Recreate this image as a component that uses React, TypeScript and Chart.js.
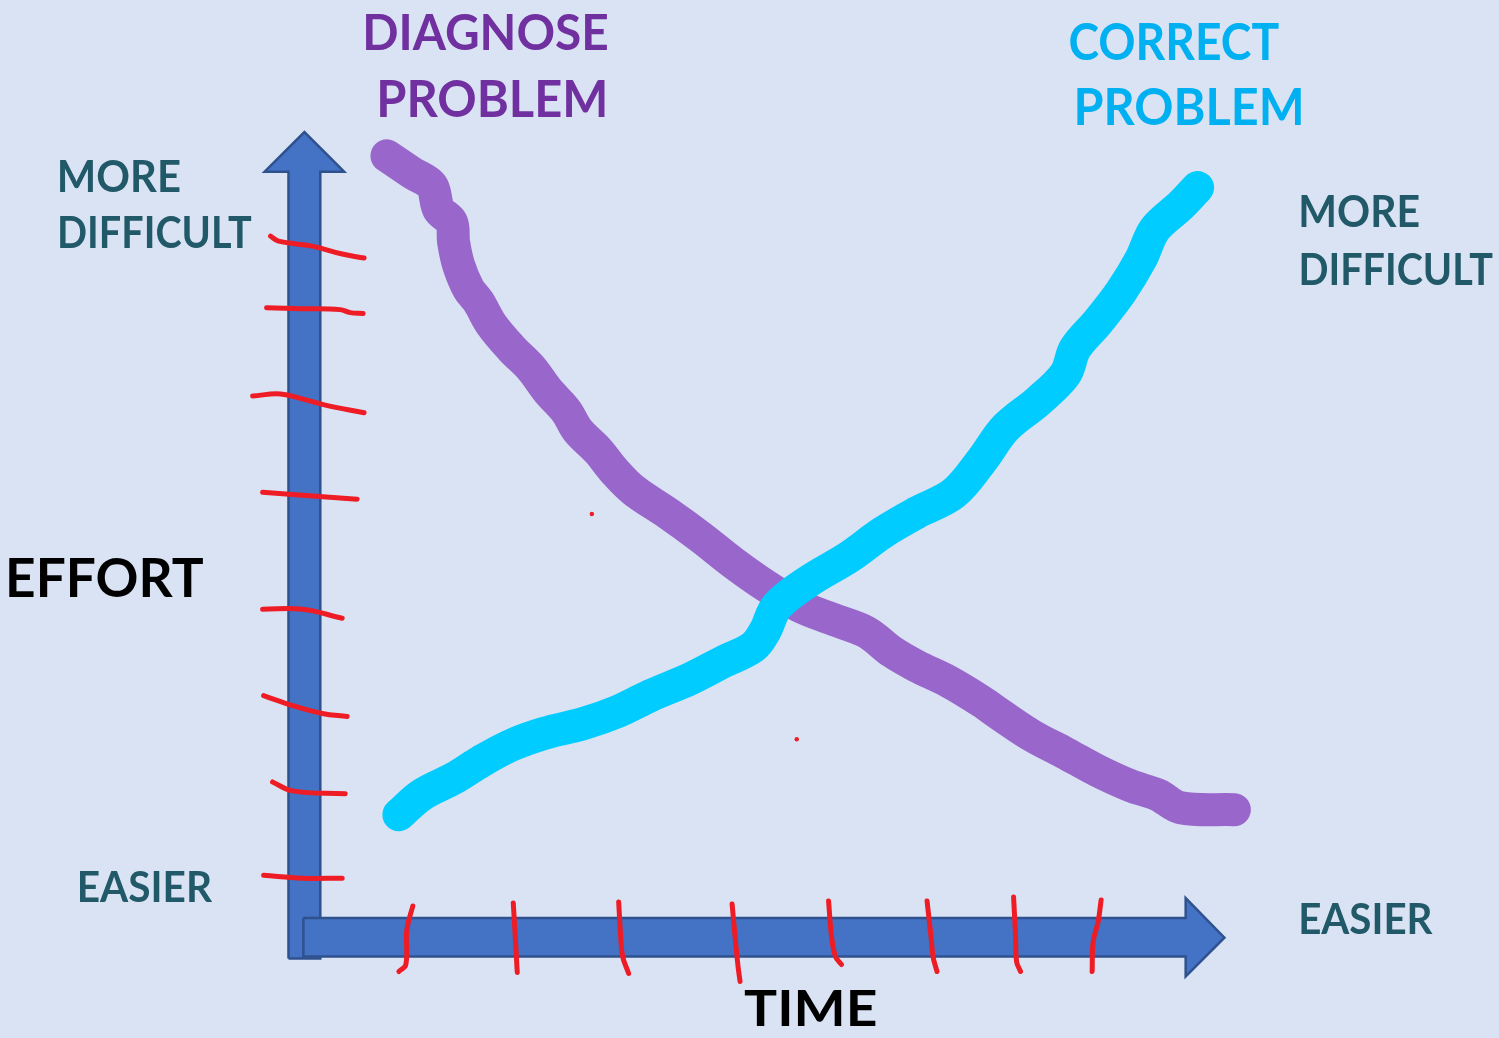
import React, { useEffect, useRef } from "react";
import { Chart, registerables } from "chart.js";

Chart.register(...registerables);

type Pt = [number, number];

// Canvas-space coordinate system of the diagram (x right, y down)
const X_RANGE: Pt = [0, 1499];
const Y_RANGE: Pt = [0, 1038];

// "Diagnose problem" curve (purple): falls over time
const diagnosePath: Pt[] = [
  [385, 153], [410, 170], [430, 183], [437, 207], [450, 220], [452, 240],
  [457, 263], [467, 287], [477, 300], [490, 323], [510, 347], [530, 367],
  [547, 390], [565, 410], [577, 430], [597, 450], [613, 470], [633, 490],
  [667, 513], [700, 537], [733, 563], [767, 587], [800, 607], [833, 620],
  [867, 633], [893, 653], [917, 667], [950, 683], [983, 703], [1000, 715],
  [1033, 737], [1067, 755], [1100, 773], [1133, 788], [1160, 797],
  [1183, 810], [1237, 812],
];

// "Correct problem" curve (cyan): rises over time
const correctPath: Pt[] = [
  [397, 817], [420, 797], [453, 780], [480, 763], [510, 747], [543, 735],
  [583, 725], [617, 713], [650, 697], [690, 680], [723, 663], [753, 648],
  [765, 632], [777, 607], [807, 583], [850, 557], [883, 533], [917, 513],
  [955, 493], [983, 460], [1007, 427], [1040, 400], [1067, 373],
  [1077, 347], [1100, 320], [1123, 290], [1143, 257], [1157, 227],
  [1183, 203], [1200, 185],
];

// Axis arrows (outlines)
const effortArrow: Pt[] = [
  [286, 962], [286, 169], [262, 169], [302, 129], [342, 169], [318, 169],
  [318, 962], [286, 962],
];
const timeArrow: Pt[] = [
  [301, 921], [1188, 921], [1188, 901], [1227, 941], [1188, 980],
  [1188, 960], [301, 960], [301, 921],
];

// Hand-drawn red tick marks on the effort axis
const effortTicks: Pt[][] = [
  [[268, 234], [276, 239], [310, 244], [340, 252], [362, 256]],
  [[264, 306], [300, 307], [338, 308], [348, 311], [361, 312]],
  [[250, 395], [278, 393], [300, 398], [322, 404], [362, 412]],
  [[260, 492], [300, 495], [355, 499]],
  [[260, 610], [300, 610], [340, 619]],
  [[261, 697], [290, 707], [320, 715], [345, 718]],
  [[270, 784], [290, 793], [343, 796]],
  [[261, 878], [300, 881], [340, 881]],
];

// Hand-drawn red tick marks on the time axis
const timeTicks: Pt[][] = [
  [[411, 909], [405, 933], [404, 968], [397, 975]],
  [[512, 906], [514, 940], [516, 976]],
  [[618, 905], [620, 940], [622, 960], [628, 977]],
  [[732, 907], [735, 940], [738, 970], [740, 985]],
  [[829, 904], [832, 940], [836, 960], [842, 968]],
  [[928, 904], [932, 940], [934, 960], [938, 975]],
  [[1015, 900], [1017, 940], [1018, 965], [1022, 975]],
  [[1103, 903], [1100, 925], [1095, 945], [1094, 975]],
];

const strayDots: Pt[] = [[591, 514], [797, 741]];

// Labels: [text, left, top, right, bottom, colour]
type Label = [string, number, number, number, number, string];
const labels: Label[] = [
  ["DIAGNOSE", 363, 10, 607, 46, "#7030A0"],
  ["PROBLEM", 378, 76, 604, 114, "#7030A0"],
  ["CORRECT", 1071, 18, 1282, 56, "#00B0F0"],
  ["PROBLEM", 1079, 84, 1304, 122, "#00B0F0"],
  ["MORE", 56, 157, 177, 189, "#215968"],
  ["DIFFICULT", 56, 214, 249, 246, "#215968"],
  ["MORE", 1304, 192, 1423, 225, "#215968"],
  ["DIFFICULT", 1304, 250, 1497, 283, "#215968"],
  ["EASIER", 76, 874, 210, 905, "#215968"],
  ["EASIER", 1304, 906, 1437, 937, "#215968"],
  ["EFFORT", 5, 558, 200, 598, "#000000"],
  ["TIME", 744, 993, 876, 1030, "#000000"],
];

const toXY = (pts: Pt[]) => pts.map(([x, y]) => ({ x, y }));

const labelPlugin = {
  id: "diagramLabels",
  afterDraw(chart: any) {
    const { ctx, scales } = chart;
    const xs = scales.x;
    const ys = scales.y;
    const family = "Lato, 'Open Sans', sans-serif";
    ctx.save();
    ctx.textAlign = "left";
    ctx.textBaseline = "alphabetic";
    for (const [text, l, t, r, b, color] of labels) {
      const left = xs.getPixelForValue(l);
      const right = xs.getPixelForValue(r);
      const top = ys.getPixelForValue(t);
      const bottom = ys.getPixelForValue(b);
      const capH = bottom - top;
      ctx.font = `bold 100px ${family}`;
      const hm = ctx.measureText("H");
      const ratio = hm.actualBoundingBoxAscent / 100;
      const size = capH / ratio;
      ctx.font = `bold ${size}px ${family}`;
      const m = ctx.measureText(text);
      const inkW = m.actualBoundingBoxLeft + m.actualBoundingBoxRight;
      const sx = (right - left) / inkW;
      ctx.save();
      ctx.translate(left, bottom);
      ctx.scale(sx, 1);
      ctx.fillStyle = color;
      ctx.fillText(text, m.actualBoundingBoxLeft, 0);
      ctx.restore();
    }
    ctx.restore();
  },
};

const bgPlugin = {
  id: "bg",
  beforeDraw(chart: any) {
    const { ctx, width, height } = chart;
    ctx.save();
    ctx.fillStyle = "#DAE3F3";
    ctx.fillRect(0, 0, width, height);
    ctx.restore();
  },
};

export default function App() {
  const ref = useRef<HTMLCanvasElement | null>(null);

  useEffect(() => {
    document.body.style.margin = "0";
    document.body.style.background = "#DAE3F3";
    if (!ref.current) return;
    const red = "#EE1C25";
    const tickSet = (pts: Pt[], order: number) => ({
      data: toXY(pts),
      showLine: true,
      borderColor: red,
      borderWidth: 5,
      borderCapStyle: "round" as const,
      borderJoinStyle: "round" as const,
      tension: 0.4,
      pointRadius: 0,
      pointHoverRadius: 0,
      fill: false,
      order,
    });
    const datasets: any[] = [
      {
        data: toXY(effortArrow),
        showLine: true,
        borderColor: "#2F528F",
        borderWidth: 2.5,
        backgroundColor: "#4472C4",
        fill: "shape",
        tension: 0,
        pointRadius: 0,
        order: 20,
      },
      ...effortTicks.map((t) => tickSet(t, 15)),
      {
        data: toXY(timeArrow),
        showLine: true,
        borderColor: "#2F528F",
        borderWidth: 2.5,
        backgroundColor: "#4472C4",
        fill: "shape",
        tension: 0,
        pointRadius: 0,
        order: 12,
      },
      ...timeTicks.map((t) => tickSet(t, 10)),
      {
        data: toXY(diagnosePath),
        showLine: true,
        borderColor: "#9966CC",
        borderWidth: 33,
        borderCapStyle: "round",
        borderJoinStyle: "round",
        tension: 0.35,
        pointRadius: 0,
        fill: false,
        order: 6,
      },
      {
        data: toXY(correctPath),
        showLine: true,
        borderColor: "#00CCFF",
        borderWidth: 33,
        borderCapStyle: "round",
        borderJoinStyle: "round",
        tension: 0.35,
        pointRadius: 0,
        fill: false,
        order: 5,
      },
      {
        data: toXY(strayDots),
        showLine: false,
        pointRadius: 2.2,
        pointBorderWidth: 0,
        pointBackgroundColor: red,
        order: 1,
      },
    ];
    const chart = new Chart(ref.current, {
      type: "scatter",
      data: { datasets },
      options: {
        animation: false,
        responsive: false,
        maintainAspectRatio: false,
        layout: { padding: 0 },
        events: [],
        plugins: {
          legend: { display: false },
          tooltip: { enabled: false },
        },
        scales: {
          x: { type: "linear", min: X_RANGE[0], max: X_RANGE[1], display: false },
          y: { type: "linear", min: Y_RANGE[0], max: Y_RANGE[1], reverse: true, display: false },
        },
      },
      plugins: [bgPlugin, labelPlugin],
    });
    return () => chart.destroy();
  }, []);

  return (
    <div style={{ width: 1499, height: 1038, background: "#DAE3F3" }}>
      <canvas ref={ref} width={1499} height={1038} style={{ display: "block" }} />
    </div>
  );
}
